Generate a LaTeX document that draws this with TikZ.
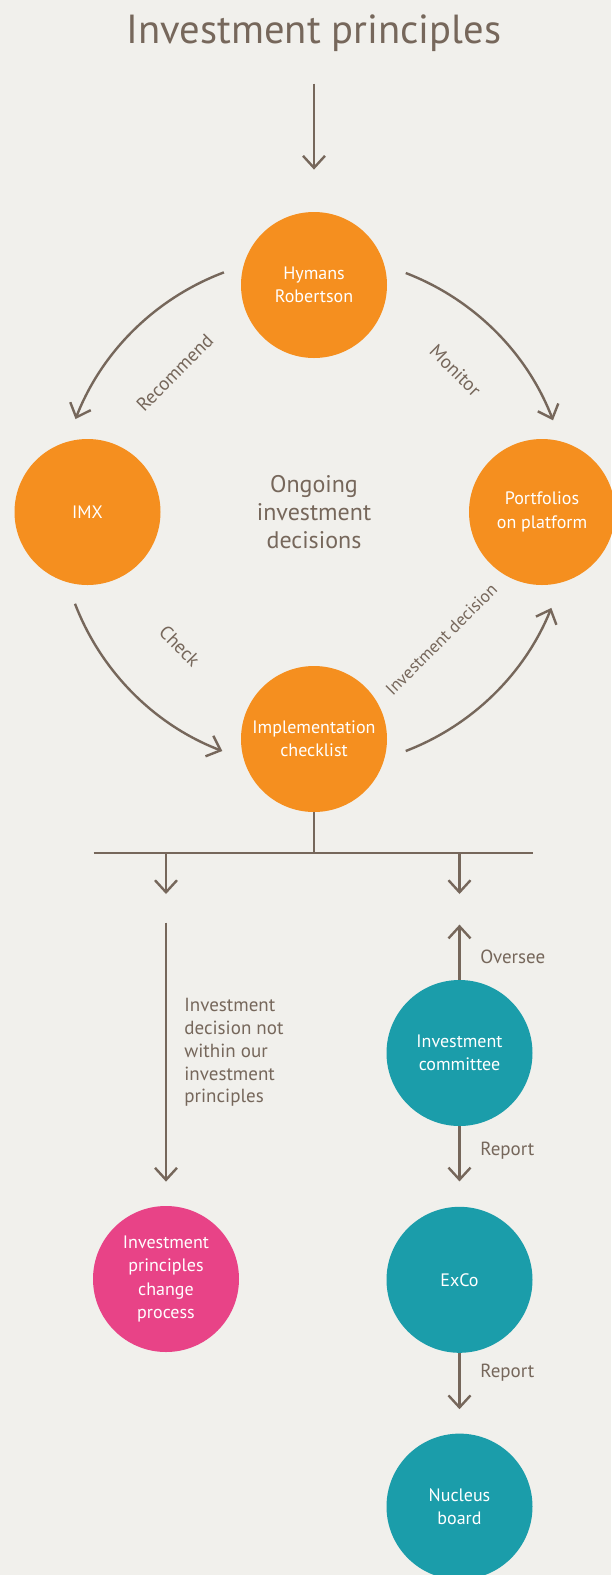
\documentclass[tikz,border=0pt]{standalone}
\usepackage{fontspec}
\setmainfont{PT Sans}
\usepackage{tikz}
\usepackage{xcolor}
\usetikzlibrary{arrows.meta, positioning}
\definecolor{PageBg}{HTML}{F1F0EC}
\definecolor{LineInk}{HTML}{76675B}
\definecolor{HubOrange}{HTML}{F58F1F}
\definecolor{GovTeal}{HTML}{1B9DAA}
\definecolor{ChangePink}{HTML}{E84387}

\begin{document}
\begin{tikzpicture}[
    x=0.5pt, y=0.5pt,
    bubble/.style={
      circle,
      minimum size=73pt,
      inner sep=0pt,
      align=center,
      text=white,
      font=\fontsize{9}{11.6}\selectfont,
    },
    flow/.style={
      draw=LineInk,
      line width=1.2pt,
      -{Straight Barb[length=6pt, width=11pt]},
    },
    bar/.style={
      draw=LineInk,
      line width=1.3pt,
    },
    tag/.style={
      text=LineInk,
      inner sep=0pt,
      align=left,
      font=\fontsize{9.5}{11.4}\selectfont,
    },
  ]
  \fill[PageBg] (0,0) rectangle (611,-1575);
  \useasboundingbox (0,0) rectangle (611,-1575);

  \node[text=LineInk, inner sep=0pt, anchor=base,
    font=\fontsize{20.3}{24}\selectfont] (title) at (314,-43) {Investment principles};

  % the decision loop
  \coordinate (hub) at (314,-512);
  \node[text=LineInk, align=center, inner sep=0pt,
    font=\fontsize{12}{14.2}\selectfont] (core) at (hub) {Ongoing\\investment\\decisions};
  \node[bubble, fill=HubOrange] (hymans) at (314,-285) {Hymans\\Robertson};
  \node[bubble, fill=HubOrange] (imx) at (87.5,-512) {IMX};
  \node[bubble, fill=HubOrange] (platform) at (542,-512) {Portfolios\\on platform};
  \node[bubble, fill=HubOrange] (checklist) at (314,-739) {Implementation\\checklist};

  \draw[flow] ([yshift=-16pt]title.south) -- ([yshift=21pt]hymans.north);

  \draw[flow] ([shift={(110.6:128pt)}]hub) arc[start angle=110.6, end angle=158.7, radius=128pt];
  \draw[flow] ([shift={(69:128pt)}]hub) arc[start angle=69, end angle=21, radius=128pt];
  \draw[flow] ([shift={(201:128pt)}]hub) arc[start angle=201, end angle=249, radius=128pt];
  \draw[flow] ([shift={(291:128pt)}]hub) arc[start angle=291, end angle=338, radius=128pt];

  \node[tag, rotate=45] at ([shift={(135:98.5pt)}]hub) {Recommend};
  \node[tag, rotate=-45] at ([shift={(45:100pt)}]hub) {Monitor};
  \node[tag, rotate=-45] at ([shift={(225:95pt)}]hub) {Check};
  \node[tag, rotate=45, font=\fontsize{8.7}{10}\selectfont]
    at ([shift={(315:90pt)}]hub) {Investment decision};

  % split below the checklist
  \coordinate (fork) at (314,-853);
  \coordinate (barL) at (93.5,-853);
  \coordinate (barR) at (532.7,-853);
  \draw[bar] (checklist.south) -- (fork);
  \draw[bar] (barL) -- (barR);

  % left branch
  \node[bubble, fill=ChangePink] (change) at (166,-1279) {Investment\\principles\\change\\process};
  \draw[flow] (fork -| change) -- ++(0,-41);
  \draw[flow] ([yshift=141.5pt]change.north) -- ([yshift=12pt]change.north);
  \node[tag, anchor=north west] (offside) at (184,-998)
    {Investment\\decision not\\within our\\investment\\principles};

  % right branch, governance chain
  \node[bubble, fill=GovTeal] (committee) at (459.5,-1053) {Investment\\committee};
  \node[bubble, fill=GovTeal, below=40pt of committee] (exco) {ExCo};
  \node[bubble, fill=GovTeal, below=40pt of exco] (nucleus) {Nucleus\\board};
  \draw[flow] (fork -| committee) -- ++(0,-41);
  \draw[flow] (committee.north) -- ++(0,55);
  \draw[flow] (committee.south) -- ([yshift=12.5pt]exco.north);
  \draw[flow] (exco.south) -- ([yshift=12pt]nucleus.north);
  \node[tag, anchor=west] at (480,-957) {Oversee};
  \node[tag, anchor=west] at (480,-1151) {Report};
  \node[tag, anchor=west] at (480,-1373) {Report};
\end{tikzpicture}
\end{document}
